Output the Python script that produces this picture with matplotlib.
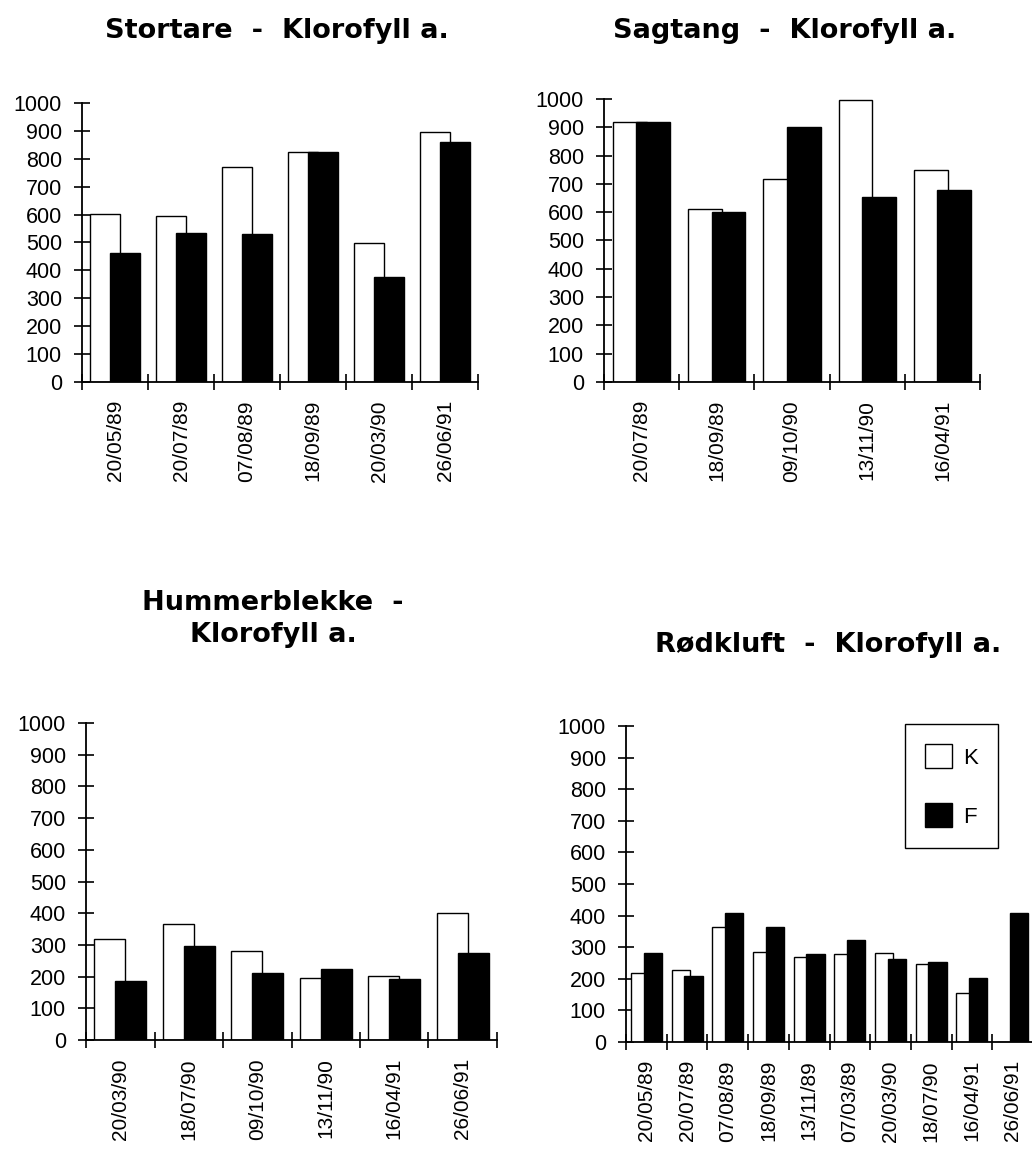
import matplotlib
matplotlib.use('Agg')
import matplotlib.pyplot as plt
from matplotlib import font_manager
from matplotlib.patches import Patch
import numpy as np

# dane (mg/m2)
stortare_dates = ['20/05/89', '20/07/89', '07/08/89', '18/09/89', '20/03/90', '26/06/91']
stortare_k = [601, 594, 772, 826, 498, 897]
stortare_f = [462, 535, 532, 826, 376, 861]

sagtang_dates = ['20/07/89', '18/09/89', '09/10/90', '13/11/90', '16/04/91']
sagtang_k = [917, 612, 717, 998, 748]
sagtang_f = [920, 601, 900, 654, 679]

hummer_dates = ['20/03/90', '18/07/90', '09/10/90', '13/11/90', '16/04/91', '26/06/91']
hummer_k = [319, 367, 282, 197, 201, 402]
hummer_f = [186, 296, 212, 225, 193, 275]

rodkluft_dates = ['20/05/89', '20/07/89', '07/08/89', '18/09/89', '13/11/89',
                  '07/03/89', '20/03/90', '18/07/90', '16/04/91', '26/06/91']
rodkluft_k = [219, 227, 365, 286, 270, 278, 283, 248, 155, 0]
rodkluft_f = [283, 208, 407, 365, 278, 322, 264, 252, 203, 407]

W, H = 1032, 1161


def pickFont(names):
    for name in names:
        try:
            font_manager.findfont(name, fallback_to_default=False)
            return name
        except ValueError:
            pass
    return 'DejaVu Sans'


NUM_FONT = pickFont(['Liberation Sans', 'Arial'])
DATE_FONT = pickFont(['Liberation Sans Narrow', 'DejaVu Sans Condensed', 'Liberation Sans'])
TITLE_FONT = 'DejaVu Sans'

fig = plt.figure(figsize=(W / 100, H / 100), dpi=100)


def addAxes(left, top, right, bottom):
    # pozycja w pikselach -> ulamki figury
    return fig.add_axes([left / W, 1 - bottom / H, (right - left) / W, (bottom - top) / H])


def drawPanel(ax, dates, k, f):
    n = len(dates)
    x = np.arange(n)
    ax.bar(x - 0.155, k, 0.45, color='white', edgecolor='black', linewidth=1.0, zorder=2)
    ax.bar(x + 0.155, f, 0.45, color='black', edgecolor='black', linewidth=1.0, zorder=3)

    ax.set_xlim(-0.5, n - 0.5)
    ax.set_ylim(0, 1000)

    for s in ['top', 'right']:
        ax.spines[s].set_visible(False)
    for s in ['left', 'bottom']:
        ax.spines[s].set_linewidth(1.3)
        ax.spines[s].set_zorder(4)

    # os Y
    ax.set_yticks(range(0, 1001, 100))
    ax.tick_params('y', direction='inout', length=11, width=1.2, pad=9)
    for lab in ax.get_yticklabels():
        lab.set_fontsize(15.5)
        lab.set_family(NUM_FONT)

    # os X - kreski na granicach, daty pośrodku
    ax.set_xticks(x)
    ax.set_xticklabels(dates, rotation=90, fontsize=15, family=DATE_FONT)
    ax.tick_params('x', which='major', length=0, pad=13)
    ax.set_xticks(np.arange(n + 1) - 0.5, minor=True)
    ax.tick_params('x', which='minor', direction='inout', length=11, width=1.2)
    ax.patch.set_alpha(0)


def addTitle(x, y, text):
    fig.text(x / W, 1 - y / H, text, ha='center', va='baseline', fontsize=19.5,
             fontweight='bold', family=TITLE_FONT)


ax1 = addAxes(82, 103, 478, 382)
drawPanel(ax1, stortare_dates, stortare_k, stortare_f)
addTitle(277, 38, 'Stortare  -  Klorofyll a.')

ax2 = addAxes(604, 99, 980, 382)
drawPanel(ax2, sagtang_dates, sagtang_k, sagtang_f)
addTitle(785, 38, 'Sagtang  -  Klorofyll a.')

ax3 = addAxes(86, 723, 497, 1040)
drawPanel(ax3, hummer_dates, hummer_k, hummer_f)
addTitle(273, 610, 'Hummerblekke  -')
addTitle(273, 642, 'Klorofyll a.')

ax4 = addAxes(626, 726, 1033, 1042)
drawPanel(ax4, rodkluft_dates, rodkluft_k, rodkluft_f)
addTitle(828, 652, 'Rødkluft  -  Klorofyll a.')

# legenda
handles = [Patch(facecolor='white', edgecolor='black', linewidth=1.0),
           Patch(facecolor='black', edgecolor='black', linewidth=1.0)]
leg = ax4.legend(handles, ['K', 'F'], loc='upper right', bbox_to_anchor=(0.914, 1.006),
                 borderaxespad=0, frameon=True, fancybox=False, edgecolor='black',
                 framealpha=1, borderpad=0.9, labelspacing=1.55, handlelength=1.2,
                 handleheight=1.3, handletextpad=0.5, prop={'size': 16, 'family': NUM_FONT})
leg.get_frame().set_linewidth(1.0)

plt.savefig('out.png', dpi=100)
